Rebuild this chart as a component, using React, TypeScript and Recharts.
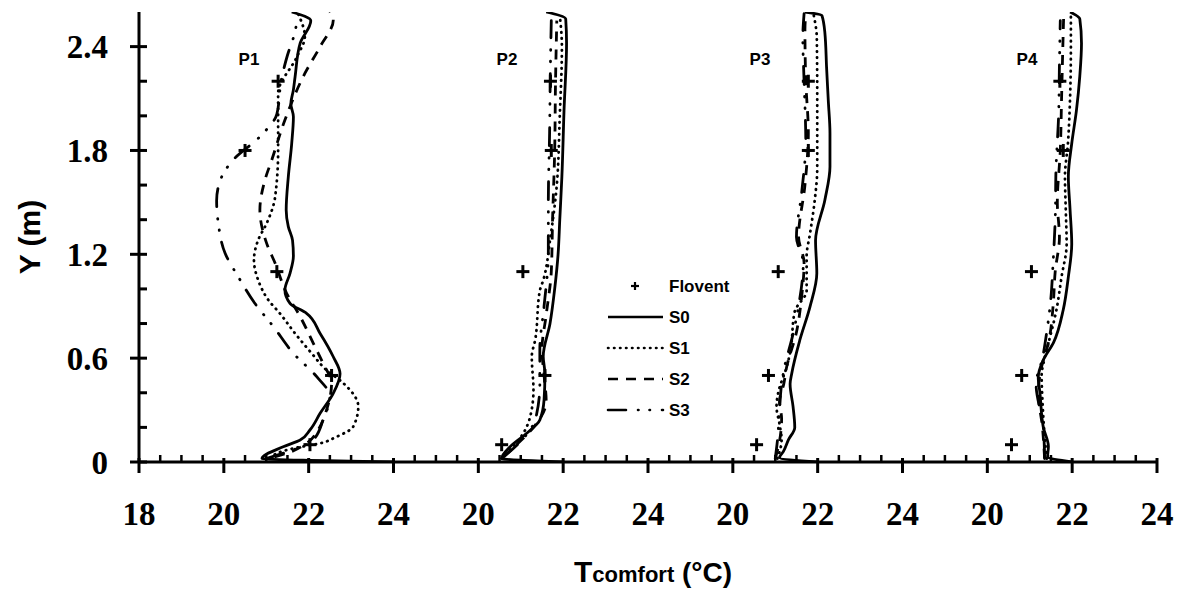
import React from 'react';
import { ComposedChart, Line, Scatter, XAxis, YAxis, Legend } from 'recharts';

document.body.style.margin = '0';

// [T (°C), Y (m)] pairs, ordered bottom to top
type Pt = [number, number];

const PANEL_NAMES = ['P1', 'P2', 'P3', 'P4'];
// each panel is drawn on one long axis, shifted by this many degrees
const PANEL_SHIFT = [0, 6, 12, 18];

const X_TICKS = [18, 20, 22, 24, 26, 28, 30, 32, 34, 36, 38, 40, 42];
const X_TICK_LABELS = ['18', '20', '22', '24', '20', '22', '24', '20', '22', '24', '20', '22', '24'];
const Y_TICKS = [0, 0.6, 1.2, 1.8, 2.4];

const SERIES_NAMES = ['S0', 'S1', 'S2', 'S3'];

const P1_S0: Pt[] = [[24.0, 0], [20.9, 0.02], [21.4, 0.088], [21.8, 0.127], [22.03, 0.185], [22.27, 0.281], [22.58, 0.397], [22.74, 0.51], [22.58, 0.608], [22.27, 0.743], [21.95, 0.859], [21.56, 0.917], [21.44, 0.994], [21.56, 1.09], [21.64, 1.19], [21.62, 1.28], [21.52, 1.36], [21.47, 1.456], [21.52, 1.648], [21.6, 1.84], [21.64, 1.995], [21.58, 2.07], [21.64, 2.15], [21.68, 2.226], [21.8, 2.42], [22.05, 2.55], [21.6, 2.6]];
const P1_S1: Pt[] = [[21.1, 0.02], [21.25, 0.05], [21.64, 0.079], [22.27, 0.108], [22.66, 0.146], [23.05, 0.204], [23.17, 0.32], [22.82, 0.455], [22.42, 0.531], [22.07, 0.628], [21.68, 0.743], [21.32, 0.859], [21.05, 0.936], [20.81, 1.051], [20.71, 1.167], [20.81, 1.283], [21.01, 1.379], [21.21, 1.533], [21.28, 1.8], [21.28, 2.13], [21.72, 2.34], [21.91, 2.457], [21.75, 2.59]];
const P1_S2: Pt[] = [[21.2, 0.03], [21.48, 0.05], [21.95, 0.108], [22.22, 0.185], [22.42, 0.3], [22.54, 0.455], [22.34, 0.57], [22.11, 0.686], [21.8, 0.84], [21.48, 0.975], [21.21, 1.148], [21.01, 1.263], [20.85, 1.456], [20.97, 1.63], [21.13, 1.745], [21.44, 1.976], [21.91, 2.245], [22.27, 2.4], [22.58, 2.553], [22.5, 2.6]];
const P1_S3: Pt[] = [[21.0, 0.02], [22.1, 0.127], [22.34, 0.243], [22.5, 0.38], [22.19, 0.493], [21.64, 0.628], [21.17, 0.782], [20.73, 0.917], [20.34, 1.07], [20.03, 1.206], [19.87, 1.379], [19.83, 1.51], [19.95, 1.648], [20.22, 1.745], [20.85, 1.88], [21.25, 2.01], [21.35, 2.2], [21.5, 2.35], [21.65, 2.46], [21.75, 2.58]];

const P2_S0: Pt[] = [[22.0, 0], [20.55, 0.02], [20.75, 0.088], [21.14, 0.166], [21.45, 0.243], [21.55, 0.36], [21.57, 0.51], [21.53, 0.61], [21.69, 0.8], [21.8, 1.0], [21.88, 1.2], [21.92, 1.4], [21.97, 1.65], [22.02, 2.03], [22.08, 2.42], [22.06, 2.56], [21.6, 2.6]];
const P2_S1: Pt[] = [[20.55, 0.02], [20.82, 0.09], [21.06, 0.166], [21.22, 0.26], [21.3, 0.416], [21.26, 0.61], [21.34, 0.705], [21.45, 0.99], [21.53, 1.05], [21.7, 1.3], [21.85, 1.6], [21.92, 2.0], [21.97, 2.4], [21.92, 2.58]];
const P2_S2: Pt[] = [[20.6, 0.03], [20.9, 0.1], [21.3, 0.2], [21.6, 0.35], [21.55, 0.5], [21.5, 0.65], [21.6, 0.85], [21.72, 1.1], [21.75, 1.4], [21.8, 1.8], [21.82, 2.2], [21.85, 2.55]];
const P2_S3: Pt[] = [[20.6, 0.03], [21.0, 0.12], [21.35, 0.25], [21.45, 0.45], [21.45, 0.65], [21.55, 0.9], [21.65, 1.2], [21.65, 1.5], [21.68, 1.9], [21.7, 2.3], [21.72, 2.55]];

const P3_S0: Pt[] = [[22.0, 0], [21.1, 0.025], [21.19, 0.06], [21.31, 0.128], [21.46, 0.2], [21.42, 0.32], [21.35, 0.45], [21.39, 0.513], [21.58, 0.705], [21.82, 0.898], [21.98, 1.09], [21.95, 1.28], [22.17, 1.514], [22.29, 1.706], [22.29, 1.9], [22.25, 2.09], [22.21, 2.28], [22.17, 2.48], [22.1, 2.58], [21.7, 2.6]];
const P3_S1: Pt[] = [[21.05, 0.02], [21.15, 0.13], [21.1, 0.22], [21.03, 0.32], [21.07, 0.4], [21.27, 0.55], [21.35, 0.63], [21.46, 0.87], [21.74, 0.99], [21.74, 1.19], [21.82, 1.32], [21.93, 1.51], [21.99, 1.7], [21.99, 2.1], [21.98, 2.45], [21.9, 2.59]];
const P3_S2: Pt[] = [[21.0, 0.02], [21.1, 0.12], [21.15, 0.25], [21.1, 0.35], [21.2, 0.45], [21.27, 0.55], [21.5, 0.75], [21.62, 0.95], [21.68, 1.15], [21.55, 1.3], [21.7, 1.6], [21.78, 1.9], [21.72, 2.2], [21.7, 2.5], [21.72, 2.59]];
const P3_S3: Pt[] = [[21.0, 0.02], [21.05, 0.12], [21.1, 0.3], [21.15, 0.45], [21.22, 0.55], [21.4, 0.72], [21.55, 0.9], [21.66, 1.15], [21.5, 1.3], [21.62, 1.55], [21.72, 1.85], [21.68, 2.2], [21.65, 2.45], [21.68, 2.59]];

const P4_S0: Pt[] = [[22.0, 0], [21.42, 0.03], [21.44, 0.09], [21.32, 0.2], [21.24, 0.4], [21.2, 0.49], [21.32, 0.59], [21.56, 0.69], [21.79, 0.88], [21.91, 1.07], [21.99, 1.26], [21.95, 1.46], [21.91, 1.65], [21.99, 1.84], [22.1, 2.03], [22.18, 2.23], [22.22, 2.42], [22.18, 2.56], [21.95, 2.6]];
const P4_S1: Pt[] = [[21.4, 0.02], [21.35, 0.15], [21.3, 0.35], [21.28, 0.5], [21.35, 0.6], [21.44, 0.686], [21.63, 0.88], [21.75, 1.07], [21.87, 1.26], [21.85, 1.45], [21.83, 1.65], [21.9, 1.84], [21.95, 2.1], [21.97, 2.4], [21.97, 2.58]];
const P4_S2: Pt[] = [[21.35, 0.02], [21.3, 0.2], [21.2, 0.4], [21.28, 0.55], [21.45, 0.7], [21.55, 0.9], [21.6, 1.1], [21.7, 1.3], [21.65, 1.5], [21.72, 1.8], [21.75, 2.1], [21.78, 2.4], [21.8, 2.58]];
const P4_S3: Pt[] = [[21.35, 0.02], [21.32, 0.2], [21.15, 0.45], [21.3, 0.6], [21.4, 0.75], [21.5, 0.95], [21.55, 1.15], [21.6, 1.4], [21.62, 1.7], [21.68, 2.0], [21.7, 2.3], [21.72, 2.55]];

// Flovent measurements, same heights in every panel
const FLOVENT_HEIGHTS = [0.1, 0.5, 1.1, 1.8, 2.2];
const FLOVENT_P1 = [22.03, 22.54, 21.25, 20.5, 21.28];
const FLOVENT_P2 = [20.55, 21.57, 21.05, 21.72, 21.7];
const FLOVENT_P3 = [20.56, 20.84, 21.07, 21.78, 21.78];
const FLOVENT_P4 = [20.57, 20.81, 21.04, 21.79, 21.71];

const PANEL_SERIES: Pt[][][] = [
    [P1_S0, P1_S1, P1_S2, P1_S3],
    [P2_S0, P2_S1, P2_S2, P2_S3],
    [P3_S0, P3_S1, P3_S2, P3_S3],
    [P4_S0, P4_S1, P4_S2, P4_S3],
];
const PANEL_FLOVENT = [FLOVENT_P1, FLOVENT_P2, FLOVENT_P3, FLOVENT_P4];

const SERIES_DASH: (string | undefined)[] = [undefined, '0.5 5.5', '10 8', '18 12 0.5 11 0.5 12'];
const SERIES_CAP: ('butt' | 'round')[] = ['butt', 'round', 'butt', 'round'];

const xMinorTicks: number[] = [];
for (let v = 18; v <= 42; v += 0.5) xMinorTicks.push(v);
const yMinorTicks: number[] = [];
for (let i = 0; i <= 12; i++) yMinorTicks.push(+(i * 0.2).toFixed(1));

const floventData = PANEL_FLOVENT.flatMap((temps, p) =>
    temps.map((t, i) => ({ x: t + PANEL_SHIFT[p], y: FLOVENT_HEIGHTS[i] }))
);

const SERIF = '"Liberation Serif", "Times New Roman", serif';
const SANS = '"Liberation Sans", Arial, sans-serif';

const XTick = (props: any) => {
    const { x, y, payload } = props;
    const idx = X_TICKS.indexOf(payload.value);
    if (idx < 0) {
        return <line x1={x} x2={x} y1={y - 7} y2={y} stroke="#000" strokeWidth={2.5} />;
    }
    return (
        <g>
            <line x1={x} x2={x} y1={y - 4} y2={y + 11} stroke="#000" strokeWidth={3} />
            <text x={x} y={y + 63} textAnchor="middle" fontFamily={SERIF} fontWeight="bold" fontSize={33} fill="#000">
                {X_TICK_LABELS[idx]}
            </text>
        </g>
    );
};

const YTick = (props: any) => {
    const { x, y, payload } = props;
    const major = Y_TICKS.includes(payload.value);
    return (
        <g>
            <line x1={major ? x - 9 : x} x2={x + 8} y1={y} y2={y} stroke="#000" strokeWidth={3} />
            {major && (
                <text x={x - 31} y={y} dy="0.35em" textAnchor="end" fontFamily={SERIF} fontWeight="bold" fontSize={33} fill="#000">
                    {String(payload.value)}
                </text>
            )}
        </g>
    );
};

const Cross = (props: any) => {
    const { cx, cy } = props;
    return (
        <g>
            <line x1={cx - 6.5} x2={cx + 6.5} y1={cy} y2={cy} stroke="#000" strokeWidth={3} />
            <line x1={cx} x2={cx} y1={cy - 6.5} y2={cy + 6.5} stroke="#000" strokeWidth={3} />
        </g>
    );
};

const LegendBox = () => (
    <svg width={140} height={150}>
        <g>
            <line x1={31} x2={39} y1={14} y2={14} stroke="#000" strokeWidth={2.2} />
            <line x1={35} x2={35} y1={10} y2={18} stroke="#000" strokeWidth={2.2} />
            <text x={69} y={14} dy="0.35em" fontFamily={SANS} fontWeight="bold" fontSize={17}>Flovent</text>
        </g>
        {SERIES_NAMES.map((name, i) => (
            <g key={name}>
                <line x1={8} x2={63} y1={45 + i * 31} y2={45 + i * 31} stroke="#000" strokeWidth={2.6}
                    strokeDasharray={SERIES_DASH[i]} strokeLinecap={SERIES_CAP[i]} />
                <text x={69} y={45 + i * 31} dy="0.35em" fontFamily={SANS} fontWeight="bold" fontSize={17}>{name}</text>
            </g>
        ))}
    </svg>
);

const PANEL_LABEL_X = [249, 507, 760, 1027];

export default function App() {
    return (
        <div style={{ position: 'relative', width: 1182, height: 590, background: '#fff' }}>
            <ComposedChart width={1182} height={590} margin={{ top: 12, right: 25, left: 59, bottom: 48 }}>
                <XAxis
                    dataKey="x"
                    type="number"
                    domain={[18, 42]}
                    allowDataOverflow
                    ticks={xMinorTicks}
                    interval={0}
                    tick={<XTick />}
                    tickLine={false}
                    tickSize={0}
                    tickMargin={0}
                    height={80}
                    axisLine={{ stroke: '#000', strokeWidth: 3 }}
                />
                <XAxis xAxisId="top" orientation="top" type="number" domain={[18, 42]} height={0}
                    tick={false} tickLine={false} axisLine={{ stroke: '#000', strokeWidth: 3 }} />
                <YAxis
                    type="number"
                    domain={[0, 2.6]}
                    allowDataOverflow
                    ticks={yMinorTicks}
                    interval={0}
                    tick={<YTick />}
                    tickLine={false}
                    tickSize={0}
                    tickMargin={0}
                    width={80}
                    axisLine={{ stroke: '#000', strokeWidth: 3 }}
                />
                <YAxis yAxisId="right" orientation="right" type="number" domain={[0, 2.6]} width={0}
                    tick={false} tickLine={false} axisLine={{ stroke: '#000', strokeWidth: 3 }} />
                {PANEL_SERIES.map((series, p) =>
                    series.map((pts, s) => (
                        <Line
                            key={`p${p}s${s}`}
                            data={pts.map(([t, y]) => ({ x: t + PANEL_SHIFT[p], y }))}
                            dataKey="y"
                            name={SERIES_NAMES[s]}
                            type="monotoneY"
                            stroke="#000"
                            strokeWidth={2.8}
                            strokeDasharray={SERIES_DASH[s]}
                            strokeLinecap={SERIES_CAP[s]}
                            dot={false}
                            activeDot={false}
                            isAnimationActive={false}
                        />
                    ))
                )}
                <Scatter data={floventData} dataKey="y" name="Flovent" shape={<Cross />} isAnimationActive={false} />
                <Legend
                    layout="vertical"
                    align="center"
                    verticalAlign="middle"
                    content={() => <LegendBox />}
                    wrapperStyle={{ position: 'absolute', left: 600, top: 272, width: 140, height: 150 }}
                />
            </ComposedChart>
            <svg width={1182} height={590} style={{ position: 'absolute', left: 0, top: 0, pointerEvents: 'none' }}>
                {PANEL_NAMES.map((name, p) => (
                    <text key={name} x={PANEL_LABEL_X[p]} y={65} textAnchor="middle" fontFamily={SANS} fontWeight="bold" fontSize={17}>
                        {name}
                    </text>
                ))}
                <text transform="rotate(-90, 40, 237)" x={40} y={237} textAnchor="middle" fontFamily={SANS} fontWeight="bold" fontSize={30}>
                    Y (m)
                </text>
                <text x={574} y={582} fontFamily={SANS} fontWeight="bold">
                    <tspan fontSize={30}>T</tspan>
                    <tspan fontSize={22}>comfort</tspan>
                    <tspan fontSize={28}> (°C)</tspan>
                </text>
            </svg>
        </div>
    );
}
